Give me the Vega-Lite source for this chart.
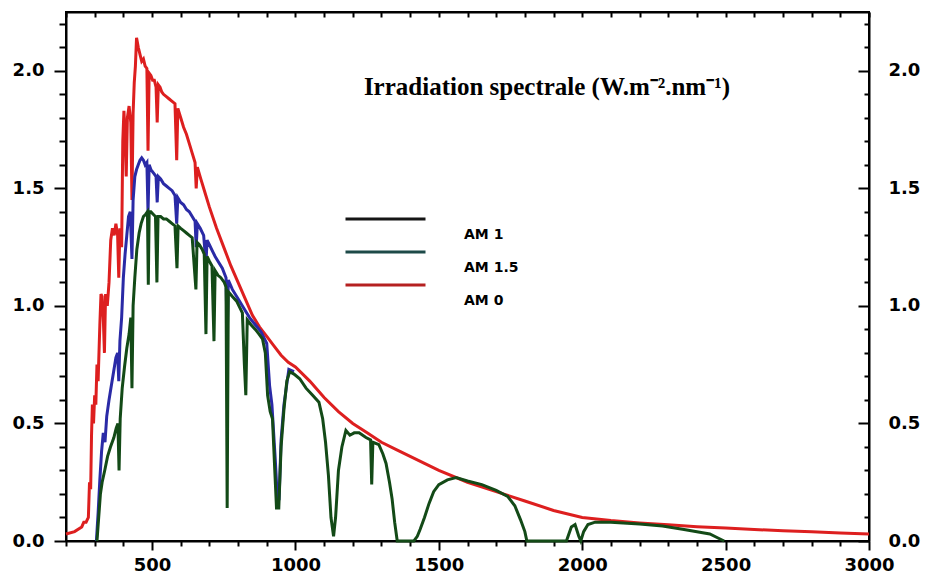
{
  "$schema": "https://vega.github.io/schema/vega-lite/v6.json",
  "width": 803,
  "height": 529,
  "padding": {"left": 12, "top": 11, "right": 5, "bottom": 5},
  "autosize": {"type": "pad"},
  "background": "white",
  "config": {"view": {"stroke": "black", "strokeWidth": 2}, "font": "DejaVu Sans"},
  "datasets": {
    "am0": [
      {"nm":200,"v":0.03},{"nm":230,"v":0.04},{"nm":255,"v":0.06},{"nm":262,"v":0.08},{"nm":270,"v":0.08},{"nm":278,"v":0.10},{"nm":282,"v":0.25},{"nm":286,"v":0.22},{"nm":289,"v":0.45},{"nm":292,"v":0.58},{"nm":296,"v":0.50},{"nm":300,"v":0.62},{"nm":304,"v":0.58},{"nm":308,"v":0.75},{"nm":312,"v":0.68},{"nm":318,"v":0.92},{"nm":322,"v":1.05},{"nm":326,"v":1.04},{"nm":330,"v":0.95},{"nm":334,"v":0.80},{"nm":338,"v":1.05},{"nm":344,"v":1.00},{"nm":350,"v":1.10},{"nm":356,"v":1.28},{"nm":362,"v":1.33},{"nm":368,"v":1.30},{"nm":374,"v":1.35},{"nm":380,"v":1.30},{"nm":384,"v":1.12},{"nm":388,"v":1.33},{"nm":394,"v":1.25},{"nm":398,"v":1.70},{"nm":402,"v":1.83},{"nm":406,"v":1.72},{"nm":410,"v":1.55},{"nm":414,"v":1.80},{"nm":420,"v":1.85},{"nm":426,"v":1.78},{"nm":430,"v":1.45},{"nm":434,"v":1.82},{"nm":438,"v":1.95},{"nm":442,"v":2.02},{"nm":446,"v":2.14},{"nm":452,"v":2.10},{"nm":458,"v":2.07},{"nm":464,"v":2.04},{"nm":470,"v":2.05},{"nm":476,"v":2.02},{"nm":482,"v":2.01},{"nm":486,"v":1.66},{"nm":490,"v":1.99},{"nm":496,"v":1.98},{"nm":502,"v":1.96},{"nm":508,"v":1.96},{"nm":514,"v":1.93},{"nm":518,"v":1.78},{"nm":522,"v":1.94},{"nm":528,"v":1.93},{"nm":534,"v":1.91},{"nm":540,"v":1.90},{"nm":550,"v":1.89},{"nm":560,"v":1.88},{"nm":570,"v":1.87},{"nm":580,"v":1.86},{"nm":586,"v":1.62},{"nm":590,"v":1.84},{"nm":600,"v":1.80},{"nm":610,"v":1.76},{"nm":620,"v":1.73},{"nm":630,"v":1.69},{"nm":640,"v":1.65},{"nm":650,"v":1.61},{"nm":654,"v":1.50},{"nm":658,"v":1.59},{"nm":670,"v":1.54},{"nm":685,"v":1.48},{"nm":700,"v":1.42},{"nm":725,"v":1.33},{"nm":750,"v":1.25},{"nm":775,"v":1.17},{"nm":800,"v":1.10},{"nm":825,"v":1.03},{"nm":850,"v":0.96},{"nm":875,"v":0.91},{"nm":900,"v":0.87},{"nm":925,"v":0.83},{"nm":950,"v":0.79},{"nm":975,"v":0.76},{"nm":1000,"v":0.74},{"nm":1050,"v":0.68},{"nm":1100,"v":0.61},{"nm":1150,"v":0.55},{"nm":1200,"v":0.50},{"nm":1250,"v":0.46},{"nm":1300,"v":0.42},{"nm":1350,"v":0.39},{"nm":1400,"v":0.36},{"nm":1450,"v":0.33},{"nm":1500,"v":0.30},{"nm":1600,"v":0.25},{"nm":1700,"v":0.21},{"nm":1800,"v":0.17},{"nm":1900,"v":0.13},{"nm":2000,"v":0.10},{"nm":2100,"v":0.087},{"nm":2200,"v":0.077},{"nm":2300,"v":0.069},{"nm":2400,"v":0.061},{"nm":2500,"v":0.055},{"nm":2600,"v":0.049},{"nm":2700,"v":0.044},{"nm":2800,"v":0.039},{"nm":2900,"v":0.034},{"nm":3000,"v":0.03}
    ],
    "am15": [
      {"nm":306,"v":0},{"nm":312,"v":0.12},{"nm":318,"v":0.26},{"nm":324,"v":0.38},{"nm":330,"v":0.46},{"nm":336,"v":0.42},{"nm":342,"v":0.53},{"nm":350,"v":0.60},{"nm":358,"v":0.66},{"nm":366,"v":0.72},{"nm":374,"v":0.78},{"nm":380,"v":0.80},{"nm":384,"v":0.68},{"nm":388,"v":0.85},{"nm":394,"v":0.95},{"nm":400,"v":1.12},{"nm":406,"v":1.22},{"nm":412,"v":1.30},{"nm":418,"v":1.38},{"nm":424,"v":1.40},{"nm":430,"v":1.20},{"nm":434,"v":1.45},{"nm":440,"v":1.55},{"nm":446,"v":1.58},{"nm":452,"v":1.60},{"nm":458,"v":1.62},{"nm":464,"v":1.63},{"nm":470,"v":1.62},{"nm":476,"v":1.60},{"nm":482,"v":1.61},{"nm":486,"v":1.40},{"nm":490,"v":1.60},{"nm":496,"v":1.58},{"nm":502,"v":1.57},{"nm":508,"v":1.56},{"nm":514,"v":1.55},{"nm":518,"v":1.44},{"nm":522,"v":1.55},{"nm":530,"v":1.54},{"nm":540,"v":1.52},{"nm":550,"v":1.51},{"nm":560,"v":1.50},{"nm":570,"v":1.49},{"nm":580,"v":1.47},{"nm":586,"v":1.35},{"nm":590,"v":1.46},{"nm":600,"v":1.44},{"nm":610,"v":1.43},{"nm":620,"v":1.41},{"nm":630,"v":1.40},{"nm":640,"v":1.38},{"nm":650,"v":1.36},{"nm":654,"v":1.25},{"nm":658,"v":1.35},{"nm":668,"v":1.33},{"nm":680,"v":1.30},{"nm":688,"v":1.18},{"nm":692,"v":1.28},{"nm":700,"v":1.26},{"nm":712,"v":1.23},{"nm":720,"v":1.21},{"nm":730,"v":1.19},{"nm":745,"v":1.16},{"nm":758,"v":1.12},{"nm":762,"v":0.85},{"nm":766,"v":1.11},{"nm":780,"v":1.07},{"nm":800,"v":1.03},{"nm":820,"v":0.99},{"nm":840,"v":0.95},{"nm":860,"v":0.92},{"nm":880,"v":0.89},{"nm":900,"v":0.84},{"nm":910,"v":0.66},{"nm":918,"v":0.58},{"nm":930,"v":0.34},{"nm":937,"v":0.18},{"nm":943,"v":0.18},{"nm":950,"v":0.43},{"nm":960,"v":0.58},{"nm":977,"v":0.73},{"nm":995,"v":0.72}
    ],
    "am1": [
      {"nm":308,"v":0},{"nm":314,"v":0.10},{"nm":320,"v":0.20},{"nm":326,"v":0.25},{"nm":335,"v":0.30},{"nm":345,"v":0.36},{"nm":355,"v":0.40},{"nm":367,"v":0.44},{"nm":375,"v":0.48},{"nm":381,"v":0.50},{"nm":385,"v":0.30},{"nm":389,"v":0.52},{"nm":396,"v":0.65},{"nm":404,"v":0.74},{"nm":412,"v":0.82},{"nm":420,"v":0.88},{"nm":426,"v":0.95},{"nm":430,"v":0.65},{"nm":434,"v":1.00},{"nm":440,"v":1.12},{"nm":447,"v":1.24},{"nm":455,"v":1.31},{"nm":462,"v":1.35},{"nm":470,"v":1.38},{"nm":478,"v":1.39},{"nm":484,"v":1.40},{"nm":487,"v":1.09},{"nm":490,"v":1.40},{"nm":496,"v":1.40},{"nm":504,"v":1.39},{"nm":512,"v":1.38},{"nm":517,"v":1.10},{"nm":521,"v":1.38},{"nm":530,"v":1.38},{"nm":540,"v":1.37},{"nm":550,"v":1.37},{"nm":560,"v":1.36},{"nm":570,"v":1.35},{"nm":580,"v":1.34},{"nm":587,"v":1.16},{"nm":591,"v":1.34},{"nm":600,"v":1.33},{"nm":610,"v":1.32},{"nm":620,"v":1.31},{"nm":630,"v":1.30},{"nm":640,"v":1.29},{"nm":653,"v":1.07},{"nm":657,"v":1.27},{"nm":665,"v":1.26},{"nm":675,"v":1.24},{"nm":682,"v":1.22},{"nm":688,"v":0.88},{"nm":692,"v":1.21},{"nm":700,"v":1.19},{"nm":709,"v":1.17},{"nm":716,"v":0.85},{"nm":720,"v":1.15},{"nm":730,"v":1.13},{"nm":740,"v":1.12},{"nm":752,"v":1.10},{"nm":758,"v":1.08},{"nm":762,"v":0.14},{"nm":766,"v":1.06},{"nm":780,"v":1.04},{"nm":795,"v":1.02},{"nm":803,"v":1.00},{"nm":815,"v":0.97},{"nm":822,"v":0.75},{"nm":827,"v":0.62},{"nm":832,"v":0.94},{"nm":845,"v":0.92},{"nm":860,"v":0.90},{"nm":873,"v":0.88},{"nm":885,"v":0.86},{"nm":895,"v":0.80},{"nm":903,"v":0.62},{"nm":912,"v":0.55},{"nm":920,"v":0.52},{"nm":928,"v":0.30},{"nm":934,"v":0.14},{"nm":942,"v":0.14},{"nm":950,"v":0.40},{"nm":960,"v":0.56},{"nm":970,"v":0.68},{"nm":980,"v":0.72},{"nm":995,"v":0.71},{"nm":1015,"v":0.69},{"nm":1037,"v":0.65},{"nm":1060,"v":0.62},{"nm":1082,"v":0.59},{"nm":1095,"v":0.52},{"nm":1105,"v":0.42},{"nm":1115,"v":0.28},{"nm":1124,"v":0.10},{"nm":1133,"v":0.02},{"nm":1140,"v":0.10},{"nm":1150,"v":0.30},{"nm":1162,"v":0.40},{"nm":1176,"v":0.47},{"nm":1190,"v":0.45},{"nm":1205,"v":0.46},{"nm":1222,"v":0.46},{"nm":1246,"v":0.44},{"nm":1262,"v":0.43},{"nm":1266,"v":0.24},{"nm":1270,"v":0.42},{"nm":1291,"v":0.41},{"nm":1305,"v":0.37},{"nm":1316,"v":0.33},{"nm":1328,"v":0.25},{"nm":1337,"v":0.18},{"nm":1346,"v":0.08},{"nm":1355,"v":0},{"nm":1413,"v":0},{"nm":1425,"v":0.02},{"nm":1435,"v":0.05},{"nm":1450,"v":0.10},{"nm":1466,"v":0.16},{"nm":1482,"v":0.21},{"nm":1500,"v":0.24},{"nm":1530,"v":0.26},{"nm":1560,"v":0.27},{"nm":1600,"v":0.255},{"nm":1650,"v":0.24},{"nm":1700,"v":0.215},{"nm":1740,"v":0.19},{"nm":1765,"v":0.15},{"nm":1785,"v":0.09},{"nm":1800,"v":0.04},{"nm":1807,"v":0},{"nm":1945,"v":0},{"nm":1962,"v":0.06},{"nm":1975,"v":0.07},{"nm":1988,"v":0.02},{"nm":1995,"v":0.0},{"nm":2005,"v":0.04},{"nm":2020,"v":0.07},{"nm":2045,"v":0.08},{"nm":2100,"v":0.08},{"nm":2200,"v":0.072},{"nm":2280,"v":0.064},{"nm":2350,"v":0.05},{"nm":2420,"v":0.035},{"nm":2445,"v":0.03},{"nm":2470,"v":0.015},{"nm":2495,"v":0}
    ],
    "legend": [
      {"nm":200,"v":0,"s":"AM 1"},{"nm":200,"v":0,"s":"AM 1.5"},{"nm":200,"v":0,"s":"AM 0"}
    ],
    "title": [{"label":"Irradiation spectrale (W.m⁻².nm⁻¹)","nm":1877,"v":1.93}]
  },
  "resolve": {"axis": {"x": "independent", "y": "independent"}},
  "layer": [
    {
      "data": {"name": "am0"},
      "mark": {"type": "line", "color": "#dd1f1f", "strokeWidth": 3},
      "encoding": {
        "x": {"field": "nm", "type": "quantitative",
          "scale": {"domain": [200, 3000], "nice": false, "zero": false},
          "axis": {"orient": "bottom", "title": null, "grid": false,
            "values": [200,300,400,500,600,700,800,900,1000,1100,1200,1300,1400,1500,1600,1700,1800,1900,2000,2100,2200,2300,2400,2500,2600,2700,2800,2900,3000],
            "labelExpr": "datum.value % 500 === 0 ? datum.value : ''",
            "tickSize": {"condition": {"test": "datum.value % 500 === 0", "value": 9}, "value": 5},
            "tickWidth": 2, "tickColor": "black", "domainColor": "black", "domainWidth": 2,
            "labelFont": "DejaVu Sans", "labelFontWeight": "bold", "labelFontSize": 18, "labelColor": "black",
            "labelPadding": 6, "labelFlush": false, "labelOverlap": false}},
        "y": {"field": "v", "type": "quantitative",
          "scale": {"domain": [0, 2.25], "nice": false},
          "axis": {"orient": "left", "title": null, "grid": false,
            "values": [0,0.1,0.2,0.3,0.4,0.5,0.6,0.7,0.8,0.9,1,1.1,1.2,1.3,1.4,1.5,1.6,1.7,1.8,1.9,2,2.1,2.2],
            "labelExpr": "round(datum.value*10) % 5 === 0 ? format(datum.value, '.1f') : ''",
            "tickSize": {"condition": {"test": "round(datum.value*10) % 5 === 0", "value": 12}, "value": 7},
            "tickWidth": 2, "tickColor": "black", "domainColor": "black", "domainWidth": 2,
            "labelFont": "DejaVu Sans", "labelFontWeight": "bold", "labelFontSize": 18, "labelColor": "black",
            "labelPadding": 10, "labelFlush": false, "labelOverlap": false}}
      }
    },
    {
      "data": {"name": "am15"},
      "mark": {"type": "line", "color": "#2a2aa6", "strokeWidth": 3},
      "encoding": {
        "x": {"field": "nm", "type": "quantitative", "axis": null},
        "y": {"field": "v", "type": "quantitative", "axis": null}
      }
    },
    {
      "data": {"name": "am1"},
      "mark": {"type": "line", "color": "#134a17", "strokeWidth": 3},
      "encoding": {
        "x": {"field": "nm", "type": "quantitative", "axis": null},
        "y": {"field": "v", "type": "quantitative", "axis": null}
      }
    },
    {
      "data": {"name": "legend"},
      "mark": {"type": "line", "opacity": 0},
      "encoding": {
        "x": {"field": "nm", "type": "quantitative",
          "axis": {"orient": "top", "title": null, "grid": false, "labels": false,
            "values": [200,300,400,500,600,700,800,900,1000,1100,1200,1300,1400,1500,1600,1700,1800,1900,2000,2100,2200,2300,2400,2500,2600,2700,2800,2900,3000],
            "tickSize": -5, "tickWidth": 2, "tickColor": "black", "domainColor": "black", "domainWidth": 2}},
        "y": {"field": "v", "type": "quantitative",
          "axis": {"orient": "right", "title": null, "grid": false,
            "values": [0,0.1,0.2,0.3,0.4,0.5,0.6,0.7,0.8,0.9,1,1.1,1.2,1.3,1.4,1.5,1.6,1.7,1.8,1.9,2,2.1,2.2],
            "labelExpr": "round(datum.value*10) % 5 === 0 ? format(datum.value, '.1f') : ''",
            "tickSize": {"condition": {"test": "round(datum.value*10) % 5 === 0", "value": -11}, "value": -5},
            "tickWidth": 2, "tickColor": "black", "domainColor": "black", "domainWidth": 2,
            "labelFont": "DejaVu Sans", "labelFontWeight": "bold", "labelFontSize": 18, "labelColor": "black",
            "labelPadding": 30, "labelFlush": false, "labelOverlap": false}},
        "stroke": {"field": "s", "type": "nominal",
          "scale": {"domain": ["AM 1", "AM 1.5", "AM 0"], "range": ["#151515", "#1d4a48", "#b52020"]},
          "legend": {"orient": "none", "legendX": 278, "legendY": 205, "title": null,
            "symbolType": "stroke", "symbolSize": 6400, "symbolStrokeWidth": 3, "symbolOpacity": 1,
            "labelFont": "DejaVu Sans", "labelFontWeight": "bold", "labelFontSize": 14, "labelColor": "black",
            "labelOffset": 37, "labelBaseline": "middle", "rowPadding": 4,
            "encode": {"symbols": {"update": {"y": {"value": 2}}},
                       "labels": {"update": {"y": {"value": 2}, "dy": {"value": 16}}}}}}
      }
    },
    {
      "data": {"name": "title"},
      "mark": {"type": "text", "font": "Liberation Serif", "fontWeight": "bold", "fontSize": 25, "color": "black"},
      "encoding": {
        "x": {"field": "nm", "type": "quantitative", "axis": null},
        "y": {"field": "v", "type": "quantitative", "axis": null},
        "text": {"field": "label"}
      }
    }
  ]
}
